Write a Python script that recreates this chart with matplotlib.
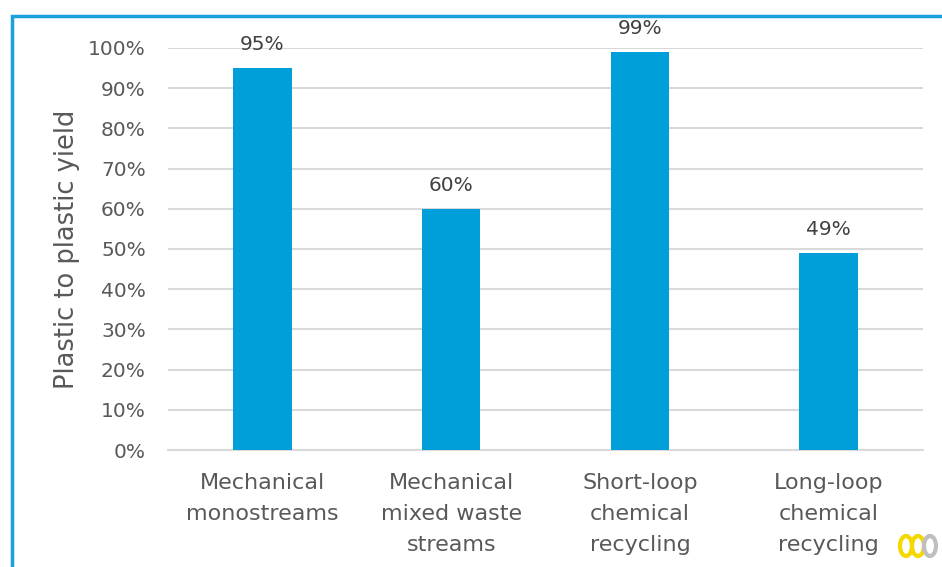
import matplotlib
matplotlib.use("Agg")
import matplotlib.pyplot as plt
from matplotlib.patches import Rectangle, Ellipse

categories = ["Mechanical\nmonostreams", "Mechanical\nmixed waste\nstreams",
              "Short-loop\nchemical\nrecycling", "Long-loop\nchemical\nrecycling"]
values = [95, 60, 99, 49]
labels = ["95%", "60%", "99%", "49%"]
yticks = [0, 10, 20, 30, 40, 50, 60, 70, 80, 90, 100]
ytick_labels = [f"{t}%" for t in yticks]

W, H = 942, 567
fig = plt.figure(figsize=(W / 100, H / 100), dpi=100)
plt.rcParams['font.family'] = ['DejaVu Sans']

ax = fig.add_axes([168 / W, 1 - 450 / H, (923 - 168) / W, (450 - 48) / H])
x = list(range(len(categories)))
ax.bar(x, values, width=0.31, color="#009FDA", zorder=3)
ax.set_xlim(-0.5, len(categories) - 0.5)
ax.set_ylim(0, 100)
ax.set_yticks(yticks)
ax.set_yticklabels(ytick_labels, fontsize=14.5, color="#595959")
ax.set_xticks(x)
ax.set_xticklabels(categories, fontsize=16, color="#595959", linespacing=1.68, va="top")
ax.tick_params(axis="both", length=0)
ax.tick_params(axis="y", pad=16)
ax.tick_params(axis="x", pad=16.5)
ax.grid(axis="y", color="#D9D9D9", linewidth=1.5, zorder=0)
for s in ["top", "right", "left"]:
    ax.spines[s].set_visible(False)
ax.spines["bottom"].set_color("#D9D9D9")
ax.spines["bottom"].set_linewidth(1.5)
ax.set_ylabel("Plastic to plastic yield", fontsize=18.5, color="#595959", labelpad=6)

for xi, v, lab in zip(x, values, labels):
    ax.text(xi, v + 3.5, lab, ha="center", va="bottom", fontsize=14.5, color="#404040")

# Blue frame
fig.patches.append(Rectangle((12 / W, -0.1), 1.2, (1 - 16 / H) + 0.1,
                             transform=fig.transFigure, fill=False,
                             edgecolor="#1BA1DC", linewidth=2.5))

# Small logo approximation
for dx, col in [(0, "#F5D800"), (12, "#F5D800"), (24, "#BFBFBF")]:
    fig.patches.append(Ellipse(((906 + dx) / W, 1 - 546 / H), 12 / W, 20 / H,
                               transform=fig.transFigure, fill=False,
                               edgecolor=col, linewidth=3))

fig.savefig("out.png", dpi=100)
